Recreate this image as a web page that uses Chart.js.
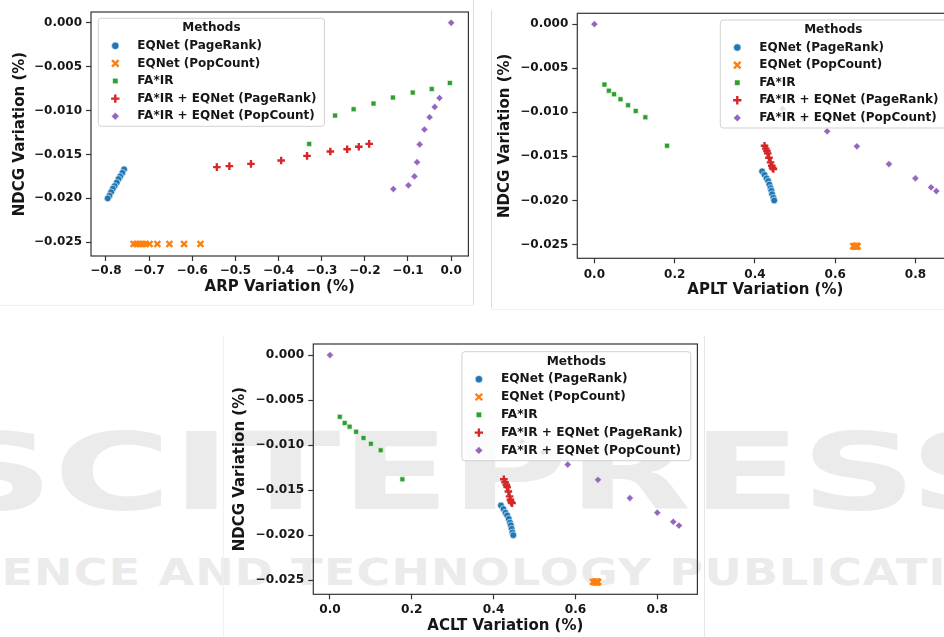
<!DOCTYPE html>
<html>
<head>
<meta charset="utf-8">
<script src="https://cdn.jsdelivr.net/npm/chart.js@4.4.1/dist/chart.umd.min.js"></script>
<style>
  html, body { margin: 0; padding: 0; background: #fff; }
  body { width: 944px; height: 637px; overflow: hidden; position: relative; font-family: "DejaVu Sans", sans-serif; }
  .wm { position: absolute; color: #ebebeb; font-weight: bold; white-space: nowrap; transform-origin: 0 0; line-height: 1; }
  .edge { position: absolute; background: #dcdcdc; }
  canvas { position: absolute; }
</style>
</head>
<body>

<div class="wm" style="left:-62px; top:419px; font-size:107px; transform:scaleX(1.5);">SCITEPRESS</div>
<div class="wm" style="left:-86px; top:554px; font-size:37px; letter-spacing:1px; transform:scaleX(1.24);">SCIENCE AND TECHNOLOGY PUBLICATIONS</div>

<div class="edge" style="left:473px; top:0; width:1px; height:305px;"></div>
<div class="edge" style="left:0; top:305px; width:473px; height:1px; background:#f0f0f0;"></div>
<div class="edge" style="left:491px; top:10px; width:1px; height:298px;"></div>
<div class="edge" style="left:491px; top:309px; width:453px; height:1px; background:#f0f0f0;"></div>
<div class="edge" style="left:223px; top:336px; width:1px; height:301px; background:#f0f0f0;"></div>
<div class="edge" style="left:704px; top:336px; width:1px; height:301px; background:#e6e6e6;"></div>

<canvas id="arp-chart" width="475" height="305" style="left:0; top:0;"></canvas>
<canvas id="aplt-chart" width="468" height="310" style="left:492px; top:0;"></canvas>
<canvas id="aclt-chart" width="482" height="305" style="left:222px; top:332px;"></canvas>

<script>
/*////////////////////////////////
///            Data            ///
////////////////////////////////*/

const methods = ['EQNet (PageRank)', 'EQNet (PopCount)', 'FA*IR', 'FA*IR + EQNet (PageRank)', 'FA*IR + EQNet (PopCount)'];

// NDCG variation, shared by the three panels
const ndcgPageRank = [-0.0167, -0.0171, -0.0175, -0.0178, -0.0182, -0.0186, -0.0189, -0.0193, -0.0197, -0.0200];
const ndcgPopCount = [-0.0252, -0.0252, -0.0252, -0.0252, -0.0252, -0.0252, -0.0252, -0.0252, -0.0252, -0.0252];
const ndcgFair = [-0.00686, -0.00755, -0.00795, -0.00852, -0.00920, -0.00985, -0.01057, -0.01380];
const ndcgFairPageRank = [-0.01380, -0.01413, -0.01440, -0.01466, -0.01516, -0.01569, -0.01607, -0.01633, -0.01644];
const ndcgFairPopCount = [0, -0.00857, -0.00959, -0.01076, -0.01216, -0.01386, -0.01588, -0.01750, -0.01852, -0.01894];

// ARP variation
const arpPageRank = [-0.758, -0.762, -0.767, -0.771, -0.775, -0.780, -0.784, -0.788, -0.792, -0.796];
const arpPopCount = [-0.736, -0.729, -0.722, -0.715, -0.708, -0.699, -0.681, -0.653, -0.619, -0.581];
const arpFair = [-0.003, -0.045, -0.089, -0.135, -0.180, -0.226, -0.269, -0.329];
const arpFairPageRank = [-0.190, -0.214, -0.241, -0.280, -0.334, -0.394, -0.464, -0.514, -0.543];
const arpFairPopCount = [0, -0.027, -0.038, -0.050, -0.062, -0.073, -0.079, -0.085, -0.099, -0.134];

// APLT variation
const apltPageRank = [0.418, 0.424, 0.429, 0.433, 0.436, 0.439, 0.441, 0.443, 0.446, 0.448];
const apltPopCount = [0.645, 0.648, 0.650, 0.651, 0.652, 0.653, 0.654, 0.654, 0.655, 0.655];
const apltFair = [0.025, 0.036, 0.049, 0.065, 0.084, 0.103, 0.127, 0.181];
const apltFairPageRank = [0.424, 0.427, 0.430, 0.432, 0.435, 0.439, 0.442, 0.444, 0.446];
const apltFairPopCount = [0, 0.426, 0.469, 0.520, 0.580, 0.654, 0.734, 0.800, 0.839, 0.852];

// ACLT variation
const acltPageRank = [0.418, 0.424, 0.429, 0.433, 0.437, 0.440, 0.442, 0.444, 0.446, 0.448];
const acltPopCount = [0.643, 0.647, 0.649, 0.650, 0.651, 0.652, 0.653, 0.654, 0.654, 0.655];
const acltFair = [0.024, 0.036, 0.048, 0.064, 0.082, 0.100, 0.124, 0.177];
const acltFairPageRank = [0.425, 0.428, 0.431, 0.433, 0.436, 0.439, 0.441, 0.443, 0.445];
const acltFairPopCount = [0, 0.426, 0.469, 0.521, 0.581, 0.655, 0.733, 0.800, 0.839, 0.853];

// tick labels
const ndcgTicks = [0, -0.005, -0.010, -0.015, -0.020, -0.025];
const arpTicks = [-0.8, -0.7, -0.6, -0.5, -0.4, -0.3, -0.2, -0.1, 0.0];
const apltTicks = [0.0, 0.2, 0.4, 0.6, 0.8];
const acltTicks = [0.0, 0.2, 0.4, 0.6, 0.8];

/*////////////////////////////////
///          Styling           ///
////////////////////////////////*/

const FONT = '"DejaVu Sans", sans-serif';
const TEXT = '#161616';

const markers = [
  { color: '#1f77b4', style: 'circle', radius: 3.4, filled: true },
  { color: '#ff7f0e', style: 'crossRot', radius: 4.2, filled: false },
  { color: '#2ca02c', style: 'rect', radius: 3.5, filled: true },
  { color: '#d62728', style: 'cross', radius: 3.8, filled: false },
  { color: '#9467bd', style: 'rectRot', radius: 3.6, filled: true }
];

const ndcgAll = [ndcgPageRank, ndcgPopCount, ndcgFair, ndcgFairPageRank, ndcgFairPopCount];

function fmt(v, digits) {
  let s = Math.abs(v).toFixed(digits);
  return v < -1e-9 ? '\u2212' + s : s;
}

function makeDatasets(xs) {
  return methods.map((name, i) => {
    let m = markers[i];
    return {
      label: name,
      data: xs[i].map((x, j) => ({ x: x, y: ndcgAll[i][j] })),
      pointStyle: m.style,
      pointRadius: m.radius,
      pointHoverRadius: m.radius,
      backgroundColor: m.color,
      borderColor: m.filled ? '#ffffff' : m.color,
      borderWidth: m.filled ? 0.6 : 2.4
    };
  });
}

// matplotlib-like box round the plot area
const framePlugin = {
  id: 'frame',
  afterDatasetsDraw(chart) {
    const a = chart.chartArea;
    const ctx = chart.ctx;
    ctx.save();
    ctx.strokeStyle = '#333';
    ctx.lineWidth = 1.2;
    ctx.strokeRect(a.left, a.top, a.right - a.left, a.bottom - a.top);
    ctx.restore();
  }
};

// "Methods" legend drawn inside the plot area, over the points
const methodsLegend = {
  id: 'methodsLegend',
  afterDraw(chart, args, opts) {
    const ctx = chart.ctx;
    const a = chart.chartArea;
    const sets = chart.data.datasets;
    ctx.save();
    ctx.font = 'bold ' + opts.fontSize + 'px ' + FONT;
    let textW = Math.max(...sets.map(d => ctx.measureText(d.label).width));
    let w = opts.textX + textW + 8;
    let h = opts.rowGap * 5 + 20;
    let x = opts.side == 'left' ? a.left + opts.inset : a.right - opts.inset - w;
    let y = a.top + opts.top;

    ctx.beginPath();
    ctx.roundRect(x, y, w, h, 3);
    ctx.fillStyle = 'rgba(255,255,255,0.8)';
    ctx.fill();
    ctx.strokeStyle = '#d0d0d0';
    ctx.lineWidth = 1;
    ctx.stroke();

    ctx.fillStyle = TEXT;
    ctx.textAlign = 'center';
    ctx.textBaseline = 'middle';
    ctx.fillText(opts.title, x + w / 2, y + 10);

    ctx.textAlign = 'left';
    sets.forEach((ds, i) => {
      let ry = y + 27.5 + i * opts.rowGap;
      ctx.fillStyle = ds.backgroundColor;
      ctx.strokeStyle = ds.borderColor;
      ctx.lineWidth = ds.borderWidth;
      Chart.helpers.drawPoint(ctx, {
        pointStyle: ds.pointStyle,
        radius: ds.pointRadius * 1.1,
        rotation: 0,
        borderWidth: ds.borderWidth
      }, x + opts.markX, ry);
      ctx.fillStyle = TEXT;
      ctx.fillText(ds.label, x + opts.textX, ry);
    });
    ctx.restore();
  }
};

/*////////////////////////////////
///          Panels            ///
////////////////////////////////*/

function makePanel(id, p) {
  let ctx = document.getElementById(id).getContext('2d');
  return new Chart(ctx, {
    type: 'scatter',
    data: { datasets: makeDatasets(p.xs) },
    plugins: [framePlugin, methodsLegend],
    options: {
      responsive: false,
      animation: false,
      events: [],
      layout: { padding: { left: 0, top: p.padTop, right: p.padRight, bottom: 0 } },
      scales: {
        x: {
          type: 'linear',
          min: p.xMin,
          max: p.xMax,
          afterBuildTicks: (s) => { s.ticks = p.xTicks.map(v => ({ value: v })); },
          afterFit: (s) => { s.height = p.xAxisH; },
          grid: { drawOnChartArea: false, drawTicks: true, tickLength: 5, tickColor: '#333', tickWidth: 1.2 },
          border: { display: false },
          ticks: { padding: p.xTickPad, color: TEXT, font: { family: FONT, size: p.fontSize, weight: 'bold' }, maxRotation: 0, callback: (v) => fmt(v, 1) },
          title: { display: true, text: p.xTitle, color: TEXT, padding: { top: 0, bottom: p.xTitlePad }, font: { family: FONT, size: 15, weight: 'bold' } }
        },
        y: {
          type: 'linear',
          min: -0.02657,
          max: 0.00123,
          afterBuildTicks: (s) => { s.ticks = ndcgTicks.map(v => ({ value: v })); },
          afterFit: (s) => { s.width = p.yAxisW; },
          grid: { drawOnChartArea: false, drawTicks: true, tickLength: 5, tickColor: '#333', tickWidth: 1.2 },
          border: { display: false },
          ticks: { padding: 4, color: TEXT, font: { family: FONT, size: p.fontSize, weight: 'bold' }, callback: (v) => fmt(v, 3) },
          title: { display: true, text: 'NDCG Variation (%)', color: TEXT, padding: { top: p.yTitlePad, bottom: 0 }, font: { family: FONT, size: 15, weight: 'bold' } }
        }
      },
      plugins: {
        legend: { display: false },
        tooltip: { enabled: false },
        methodsLegend: { title: 'Methods', side: p.legendSide, inset: p.legendInset, top: p.legendTop, fontSize: p.fontSize, rowGap: p.rowGap, markX: 17, textX: 39 }
      }
    }
  });
}

let arpChart = makePanel('arp-chart', {
  xs: [arpPageRank, arpPopCount, arpFair, arpFairPageRank, arpFairPopCount],
  xTicks: arpTicks, xMin: -0.8347, xMax: 0.040, xTitle: 'ARP Variation (%)',
  padTop: 12, padRight: 6, yAxisW: 91, xAxisH: 49, xTickPad: 3, xTitlePad: 9, yTitlePad: 11,
  fontSize: 12, legendSide: 'left', legendInset: 7.3, legendTop: 6.3, rowGap: 17.6
});

let apltChart = makePanel('aplt-chart', {
  xs: [apltPageRank, apltPopCount, apltFair, apltFairPageRank, apltFairPopCount],
  xTicks: apltTicks, xMin: -0.0426, xMax: 0.8946, xTitle: 'APLT Variation (%)',
  padTop: 13.3, padRight: 6, yAxisW: 85.3, xAxisH: 51.7, xTickPad: 4, xTitlePad: 11, yTitlePad: 4,
  fontSize: 12, legendSide: 'right', legendInset: 7, legendTop: 6.7, rowGap: 17.6
});

let acltChart = makePanel('aclt-chart', {
  xs: [acltPageRank, acltPopCount, acltFair, acltFairPageRank, acltFairPopCount],
  xTicks: acltTicks, xMin: -0.0407, xMax: 0.898, xTitle: 'ACLT Variation (%)',
  padTop: 12, padRight: 5.7, yAxisW: 91.3, xAxisH: 42.7, xTickPad: 3, xTitlePad: 2, yTitlePad: 9,
  fontSize: 12.2, legendSide: 'right', legendInset: 6.6, legendTop: 7.7, rowGap: 17.8
});
</script>
</body>
</html>
